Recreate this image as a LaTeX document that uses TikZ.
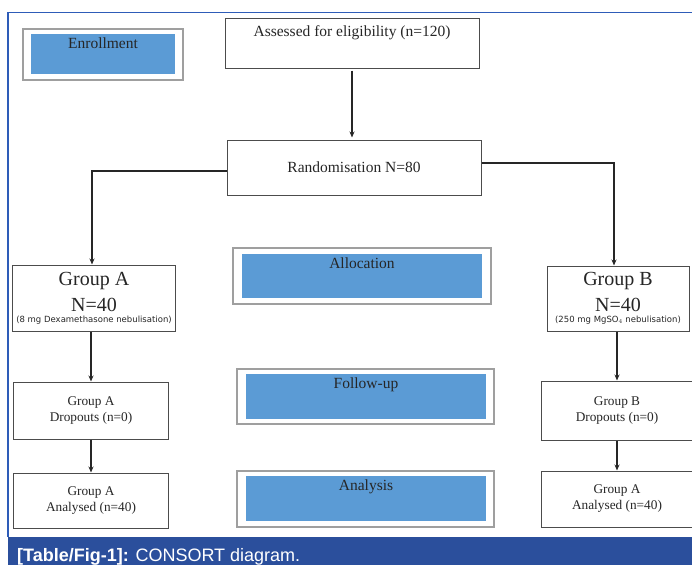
\documentclass[tikz,border=0pt]{standalone}
\usepackage{fontspec}
\setmainfont{Liberation Serif}
\setsansfont{Liberation Sans}
\newfontfamily\dejavu{DejaVu Sans}
\usetikzlibrary{arrows.meta, positioning}

\definecolor{phaseblue}{HTML}{5B9BD5}
\definecolor{capblue}{HTML}{2B4F9C}
\definecolor{frameblue}{HTML}{2E5CB8}
\definecolor{ink}{HTML}{262626}

\newcommand{\phasefont}{\fontsize{15.5}{18}\selectfont}
\newcommand{\midfont}{\fontsize{13.3}{16}\selectfont}
\newcommand{\grpfont}{\fontsize{20}{26}\selectfont}
\newcommand{\notefont}{\dejavu\fontsize{8.5}{9}\selectfont}
\newcommand{\capfont}{\sffamily\fontsize{18}{20}\selectfont}

\tikzset{
  outer/.style={draw=gray!75, line width=1.2pt},
  phase/.style={fill=phaseblue, inner sep=0pt,
    label={[anchor=north, font=\phasefont, text=ink]north:#1}},
  box/.style={draw=black!70, line width=1pt, fill=white, align=center,
    font=\midfont, text=ink},
  conn/.style={->, draw=black!85, line width=1.2pt}
}

\begin{document}
\begin{tikzpicture}[x=1pt, y=-1pt, >={Stealth[length=6pt,width=5pt]}]
  \useasboundingbox (0,0) rectangle (692,565);

  % frame and caption
  \fill[capblue] (8,537) rectangle (692,565);
  \draw[frameblue, line width=1.5pt] (8,537) -- (8,12.5) -- (692,12.5);
  \node[anchor=base west, font=\capfont, text=white, inner sep=0pt] (cap)
    at (17,561.5) {\textbf{[Table/Fig-1]:} CONSORT diagram.};

  % phase labels
  \node[phase=Enrollment, minimum width=144pt, minimum height=40pt] (enrol) at (103,54) {};
  \node[outer, minimum width=160pt, minimum height=51pt] (enrolbox) at (103,54.5) {};
  \node[phase=Allocation, minimum width=240pt, minimum height=44pt] (alloc) at (362,276) {};
  \node[outer, minimum width=258pt, minimum height=56pt] (allocbox) at (362,276) {};
  \node[phase=Follow-up, minimum width=240pt, minimum height=45pt] (follow) at (366,396.5) {};
  \node[outer, minimum width=257pt, minimum height=55pt] (followbox) at (365.5,396.5) {};
  \node[phase=Analysis, minimum width=240pt, minimum height=45pt] (analys) at (366,498.5) {};
  \node[outer, minimum width=257pt, minimum height=56pt] (analysbox) at (365.5,499) {};

  % flow
  \node[box, minimum width=254pt, minimum height=50pt,
    label={[anchor=north, font=\phasefont, text=ink, yshift=-5pt]north:Assessed for eligibility (n=120)}]
    (assess) at (352,43) {};
  \node[box, font=\phasefont, minimum width=254pt, minimum height=55pt] (rand) at (354,167.5) {Randomisation N=80};

  \node[box, font=\grpfont, minimum width=162pt, minimum height=66pt] (grpA) at (94,298)
    {Group A\\N=40\\[-15pt]{\notefont (8 mg Dexamethasone nebulisation)}};
  \node[box, font=\grpfont, minimum width=142pt, minimum height=65pt] (grpB) at (618,298.5)
    {Group B\\N=40\\[-15pt]{\notefont (250 mg MgSO$_4$ nebulisation)}};

  \node[box, minimum width=155pt, minimum height=57pt] (dropA) at (91,410.5) {Group A\\Dropouts (n=0)};
  \node[box, minimum width=155pt, minimum height=55pt] (analA) at (91,500.5) {Group A\\Analysed (n=40)};
  \node[box, minimum width=152pt, minimum height=59pt] (dropB) at (617,410.5) {Group B\\Dropouts (n=0)};
  \node[box, minimum width=152pt, minimum height=56pt] (analB) at (617,499) {Group A\\Analysed (n=40)};

  \draw[conn, shorten <=2pt, shorten >=2pt] (assess.south) -- (assess.south |- rand.north);
  \draw[conn] ([yshift=-3.5pt]rand.west) -| ([xshift=-2pt]grpA.north);
  \draw[conn] ([yshift=4.5pt]rand.east) -| ([xshift=-4pt]grpB.north);
  \draw[conn] (grpA.south -| dropA) -- (dropA);
  \draw[conn] (dropA) -- (analA);
  \draw[conn] (grpB.south -| dropB) -- (dropB);
  \draw[conn] (dropB) -- (analB);
\end{tikzpicture}
\end{document}
